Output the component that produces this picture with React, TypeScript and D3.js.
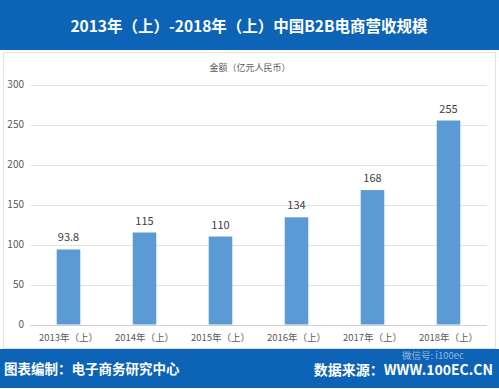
import React from "react";
import * as d3 from "d3";

const categories = ["2013年（上）", "2014年（上）", "2015年（上）", "2016年（上）", "2017年（上）", "2018年（上）"];
const values = [93.8, 115, 110, 134, 168, 255];
const valueLabels = ["93.8", "115", "110", "134", "168", "255"];
const yTicks = [0, 50, 100, 150, 200, 250, 300];

const W = 499;
const H = 389;
const BLUE = "#0d63b5";
const FONT = "'Noto Sans CJK SC', 'Microsoft YaHei', sans-serif";

export default function App() {
  const x = d3.scaleBand<string>().domain(categories).range([30.5, 486.5]).paddingInner(0.69).paddingOuter(0.345);
  const y = d3.scaleLinear().domain([0, 300]).range([324.5, 84.5]);

  return (
    <svg width={W} height={H} style={{ position: "absolute", left: 0, top: 0, fontFamily: FONT }}>
      <rect x={0} y={0} width={W} height={H} fill="#fff" />
      <rect x={0} y={0} width={W} height={50} fill={BLUE} />
      <text x={249} y={32} textAnchor="middle" fill="#fff" fontSize={15.5} fontWeight="bold">
        2013年（上）-2018年（上）中国B2B电商营收规模
      </text>
      <rect x={3.5} y={52.5} width={492} height={296} fill="none" stroke="#e3e3e3" />
      <text x={250} y={71} textAnchor="middle" fill="#595959" fontSize={9}>
        金额（亿元人民币）
      </text>
      {yTicks.map((t) => (
        <g key={t}>
          <line x1={30.5} x2={487} y1={Math.round(y(t)) + 0.5} y2={Math.round(y(t)) + 0.5} stroke={t === 0 ? "#d0d0d0" : "#e2e2e2"} />
          <text x={24} y={y(t) + 3.5} textAnchor="end" fill="#595959" fontSize={10}>
            {t}
          </text>
        </g>
      ))}
      {categories.map((c, i) => (
        <g key={c}>
          <rect x={x(c)} y={y(values[i])} width={x.bandwidth()} height={y(0) - y(values[i])} fill="#5b9bd5" />
          <text x={(x(c) as number) + x.bandwidth() / 2} y={y(values[i]) - 8} textAnchor="middle" fill="#404040" fontSize={11}>
            {valueLabels[i]}
          </text>
          <text x={(x(c) as number) + x.bandwidth() / 2} y={341} textAnchor="middle" fill="#595959" fontSize={9.5}>
            {c}
          </text>
        </g>
      ))}
      <rect x={0} y={349} width={W} height={39} fill={BLUE} />
      <text x={4} y={374} fill="#fff" fontSize={13.5} fontWeight="bold">
        图表编制：电子商务研究中心
      </text>
      <text x={493} y={375} textAnchor="end" fill="#fff" fontSize={14} fontWeight="bold">
        数据来源：WWW.100EC.CN
      </text>
      <text x={402} y={358.5} fill="#ffffff" fillOpacity={0.55} fontSize={9.5}>
        微信号: i100ec
      </text>
    </svg>
  );
}
